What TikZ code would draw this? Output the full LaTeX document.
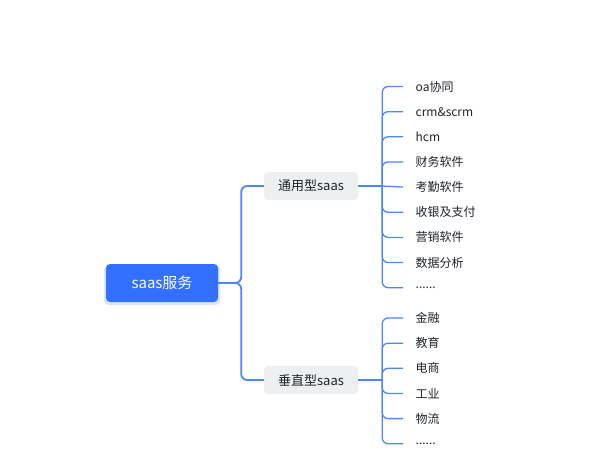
\documentclass[tikz,border=0pt]{standalone}
\usepackage{fontspec}
\setmainfont{Noto Sans CJK SC}
\usetikzlibrary{positioning,shadows}

\definecolor{rootblue}{HTML}{3370FF}
\definecolor{linkblue}{HTML}{4F85FF}
\definecolor{boxgray}{HTML}{EEEFF1}
\definecolor{textdark}{HTML}{1F2329}

\begin{document}
\begin{tikzpicture}[x=1pt, y=-1pt, node distance=0pt,
root/.style={rectangle, rounded corners=4pt, fill=rootblue, text=white, font=\fontsize{15}{18}\selectfont, minimum width=112pt, minimum height=38pt, inner sep=0pt,
  drop shadow={shadow xshift=0pt, shadow yshift=-2pt, shadow scale=1.04, fill=rootblue, opacity=0.18}},
topic/.style={rectangle, rounded corners=4pt, fill=boxgray, text=textdark, font=\fontsize{13}{16}\selectfont, minimum width=94pt, minimum height=28pt, inner sep=0pt},
leaf/.style={rectangle, text=textdark, font=\fontsize{12}{14}\selectfont, text width=70pt, align=left, minimum height=24.75pt, inner ysep=0pt, inner xsep=12.5pt},
link/.style={draw=linkblue, line width=1.3pt, rounded corners=6pt},
mainlink/.style={draw=linkblue, line width=1.8pt, rounded corners=6pt},
stub/.style={draw=linkblue, line width=2.6pt}
]
\useasboundingbox (0,0) rectangle (610,464);

%create nodes
\node[root] (root) at (162,283) {saas服务};
\node[topic] (gen) at (311,186) {通用型saas};
\node[topic] (vert) at (311,380) {垂直型saas};

\coordinate[right=23pt of root] (hub);
\coordinate[right=24pt of gen] (gtrunk);
\coordinate[right=24pt of vert] (vtrunk);

\node[leaf, anchor=west] (g1) at (403,86.5) {oa协同};
\node[leaf, below=of g1] (g2) {crm\&scrm};
\node[leaf, below=of g2] (g3) {hcm};
\node[leaf, below=of g3] (g4) {财务软件};
\node[leaf, below=of g4] (g5) {考勤软件};
\node[leaf, below=of g5] (g6) {收银及支付};
\node[leaf, below=of g6] (g7) {营销软件};
\node[leaf, below=of g7] (g8) {数据分析};
\node[leaf, below=of g8] (g9) {......};

\node[leaf, anchor=west] (v1) at (403,318) {金融};
\node[leaf, below=of v1] (v2) {教育};
\node[leaf, below=of v2] (v3) {电商};
\node[leaf, below=of v3] (v4) {工业};
\node[leaf, below=of v4] (v5) {物流};
\node[leaf, below=of v5] (v6) {......};

%root to topics
\draw[mainlink] (root.east) -- (hub) |- (gen.west);
\draw[mainlink] (root.east) -- (hub) |- (vert.west);

%topics to trunks
\draw[stub] (gen.east) -- (gtrunk);
\draw[stub] (vert.east) -- (vtrunk);

%draw paths to leaves
\draw[link] (gtrunk) |- (g1.west);
\draw[link] (gtrunk) |- (g2.west);
\draw[link] (gtrunk) |- (g3.west);
\draw[link] (gtrunk) |- (g4.west);
\draw[link] (gtrunk) -- (g5.west);
\draw[link] (gtrunk) |- (g6.west);
\draw[link] (gtrunk) |- (g7.west);
\draw[link] (gtrunk) |- (g8.west);
\draw[link] (gtrunk) |- (g9.west);

\draw[link] (vtrunk) |- (v1.west);
\draw[link] (vtrunk) |- (v2.west);
\draw[link] (vtrunk) |- (v3.west);
\draw[link] (vtrunk) |- (v4.west);
\draw[link] (vtrunk) |- (v5.west);
\draw[link] (vtrunk) |- (v6.west);

\end{tikzpicture}
\end{document}
